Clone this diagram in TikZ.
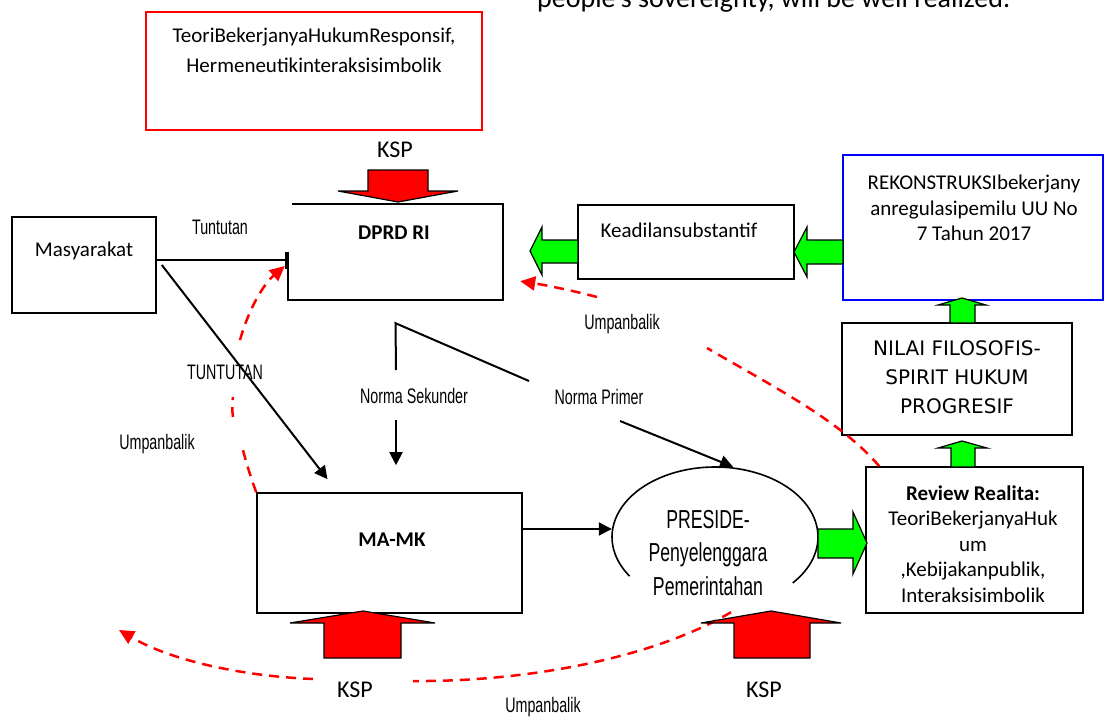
\documentclass[tikz,border=0pt]{standalone}
\usepackage{fontspec}
\setmainfont{Carlito}
\newfontfamily\agency[FakeStretch=0.68]{Liberation Sans}
\newfontfamily\dvs{DejaVu Sans}
\usetikzlibrary{arrows.meta,shapes.geometric}
\definecolor{pred}{RGB}{255,0,0}
\definecolor{pgreen}{RGB}{0,255,0}
\definecolor{pblue}{RGB}{0,0,255}
\begin{document}
\begin{tikzpicture}[x=1pt,y=-1pt,
  bx/.style={rectangle, draw=black, line width=1.6pt, inner sep=0pt},
  txt/.style={inner sep=0pt, align=center, font=\fontsize{21}{25.5}\selectfont},
  cond/.style={inner sep=0pt, font=\agency\fontsize{21}{24}\selectfont},
  ksp/.style={inner sep=0pt, font=\fontsize{24}{28}\selectfont},
  conn/.style={draw=black, line width=2pt},
  arr/.style={conn, -{Triangle[length=13pt,width=13pt]}},
  fb/.style={draw=pred, line width=2.5pt, dash pattern=on 10pt off 7pt},
  fbarr/.style={fb, -{Triangle[length=15pt,width=14pt]}},
  redblk/.style={fill=pred, draw=black, line width=1.2pt},
  grnblk/.style={fill=pgreen, draw=black, line width=1.2pt},
]
\useasboundingbox (0,0) rectangle (1104,717);
\clip (0,0) rectangle (1104,717);
\fill[white] (0,0) rectangle (1104,717);

% clipped heading
\node[anchor=base west, inner sep=0pt, font=\fontsize{28}{30}\selectfont] (head) at (537,8) {people's sovereignty, will be well realized.};

% boxes
\node[bx, draw=pred, line width=2pt, minimum width=336pt, minimum height=118pt] (redbox) at (314,71) {};
\node[bx, minimum width=144pt, minimum height=96pt] (masy) at (84,265) {};
\node[rectangle, inner sep=0pt, minimum width=215pt, minimum height=96pt] (dprd) at (395.5,252) {};
\draw[line width=1.6pt] ([xshift=4pt]dprd.north west) -- (dprd.north east) -- (dprd.south east) -- (dprd.south west) -- (dprd.west);
\node[bx, minimum width=265pt, minimum height=120pt] (mamk) at (389.5,553) {};
\node[bx, minimum width=216pt, minimum height=74pt] (kead) at (686,242) {};
\node[bx, draw=pblue, minimum width=260pt, minimum height=145pt] (rek) at (973,227.5) {};
\node[bx, minimum width=230pt, minimum height=112pt] (nilai) at (957,379) {};
\node[bx, minimum width=217pt, minimum height=146pt] (review) at (974.5,540) {};
\node[ellipse, inner sep=0pt, minimum width=206pt, minimum height=140pt] (pres) at (715,537) {};
\draw[line width=1.6pt] plot[domain=146:401, samples=90, smooth] ({715+103*cos(\x)},{537+70*sin(\x)});

% black connectors
\draw[conn, -{Bar[width=17pt,line width=3pt]}] ([yshift=5pt]masy.east) -- ([yshift=5pt]masy.east -| dprd.west);
\draw[arr] ([xshift=5pt]masy.east) -- ([xshift=-62pt,yshift=13pt]mamk.north);
\coordinate (nsTop) at ([yshift=-23pt]dprd.south);
\coordinate (nsEnd) at (396,370);
\coordinate (npEnd) at (529,381);
\draw[conn] (nsEnd) -- (nsTop) -- (npEnd);
\coordinate (nsArr) at (396,420);
\draw[arr] (nsArr) -- ([xshift=6.5pt,yshift=27pt]mamk.north);
\coordinate (npArr) at (620,421);
\draw[arr] (npArr) -- ([xshift=18pt]pres.north);
\draw[arr] ([yshift=24pt]mamk.east) -- ([yshift=24pt]mamk.east -| pres.west);

% red dashed feedback
\coordinate (l1) at (243,450);
\coordinate (l2a) at (233,417);
\coordinate (l2b) at (233,397);
\coordinate (l3) at (240,340);
\draw[fb] (mamk.north west) .. controls (250,475) and (246,462) .. (l1);
\draw[fb] (l2a) .. controls (232,410) and (232,404) .. (l2b);
\draw[fbarr] (l3) .. controls (250,305) and (265,283) .. ([xshift=-3pt,yshift=-14pt]dprd.west);
\coordinate (r1) at (707,348);
\coordinate (r2) at (597,297);
\draw[fb] ([xshift=14pt]review.north west) .. controls (840,420) and (770,385) .. (r1);
\draw[fbarr] (r2) .. controls (570,290) and (545,285) .. ([xshift=17pt,yshift=19pt]dprd.south east);
\coordinate (b1) at (413,681);
\coordinate (b2) at (313,679);
\coordinate (fbEnd) at (119,630);
\draw[fb] ([xshift=16pt,yshift=-5pt]pres.south) .. controls (650,660) and (520,682) .. (b1);
\draw[fbarr] (b2) .. controls (240,676) and (170,660) .. (fbEnd);

% red block arrows (KSP)
\draw[redblk] (368,170) -- (428,170) -- (428,191) -- (458,191) -- (398,202) -- (338,191) -- (368,191) -- cycle;
\draw[redblk] (324,658) -- (324,623) -- (290,623) -- (363,611) -- (435,623) -- (401,623) -- (401,658) -- cycle;
\draw[redblk] (734,658) -- (734,623) -- (701,623) -- (771,611) -- (841,623) -- (810,623) -- (810,658) -- cycle;

% green block arrows
\draw[grnblk] (578,240) -- (542,240) -- (542,227) -- (530,251) -- (542,275) -- (542,263) -- (578,263) -- cycle;
\draw[grnblk] (843,240) -- (807,240) -- (807,227) -- (794,252) -- (807,277) -- (807,264) -- (843,264) -- cycle;
\draw[grnblk] (818,529) -- (853,529) -- (853,512) -- (867,543) -- (853,574) -- (853,558) -- (818,558) -- cycle;
\draw[grnblk] (951,467) -- (951,448) -- (938,448) -- (962,441) -- (987,448) -- (975,448) -- (975,467) -- cycle;
\draw[grnblk] (950,323) -- (950,305) -- (938,305) -- (962,298) -- (986,305) -- (975,305) -- (975,323) -- cycle;

% box texts
\node[txt, font=\fontsize{21}{30}\selectfont] (redtxt) at (314,50) {TeoriBekerjanyaHukumResponsif,\\Hermeneutikinteraksisimbolik};
\node[txt, font=\bfseries\fontsize{21}{25.5}\selectfont] (dprdtxt) at (394,233) {DPRD RI};
\node[txt] (masytxt) at (84,251) {Masyarakat};
\node[txt, font=\bfseries\fontsize{21}{25.5}\selectfont] (mamktxt) at (392,540) {MA-MK};
\node[txt] (keadtxt) at (679,230) {Keadilansubstantif};
\node[txt] (rektxt) at (974,208) {REKONSTRUKSIbekerjany\\anregulasipemilu UU No\\7 Tahun 2017};
\node[inner sep=0pt, align=center, font=\dvs\fontsize{20}{29}\selectfont] (niltxt) at (957,377) {NILAI FILOSOFIS-\\SPIRIT HUKUM\\PROGRESIF};
\node[txt] (revtxt) at (973,544) {\textbf{Review Realita:}\\TeoriBekerjanyaHuk\\um\\,Kebijakanpublik,\\Interaksisimbolik};
\node[inner sep=0pt, align=center, font=\agency\fontsize{26}{33.5}\selectfont] (prestxt) at (708,553) {PRESIDE-\\Penyelenggara\\Pemerintahan};

% labels
\node[cond] (lTunt) at (220,227) {Tuntutan};
\node[cond] (lTUNT) at (225,372) {TUNTUTAN};
\node[cond] (lUmp1) at (157,444) {Umpanbalik};
\node[cond] (lUmp2) at (622,324) {Umpanbalik};
\node[cond] (lUmp3) at (543,707) {Umpanbalik};
\node[cond] (lNS) at (414,396) {Norma Sekunder};
\node[cond] (lNP) at (599,397) {Norma Primer};
\node[ksp] (k1) at (395,150) {KSP};
\node[ksp] (k2) at (355,690) {KSP};
\node[ksp] (k3) at (764,690) {KSP};
\end{tikzpicture}
\end{document}
